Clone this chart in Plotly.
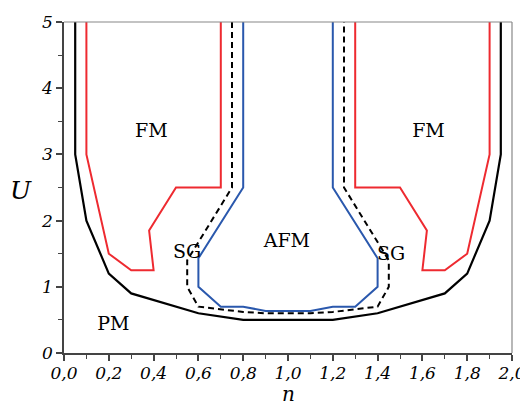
import plotly.graph_objects as go

# PM boundary (black solid)
pm_n = [0.05, 0.05, 0.1, 0.2, 0.3, 0.6, 0.8, 1.2, 1.4, 1.7, 1.8, 1.9, 1.95, 1.95]
pm_U = [5, 3, 2, 1.2, 0.9, 0.6, 0.5, 0.5, 0.6, 0.9, 1.2, 2, 3, 5]

# FM boundaries (red)
fm_left_n = [0.1, 0.1, 0.2, 0.3, 0.4, 0.38, 0.5, 0.7, 0.7]
fm_left_U = [5, 3, 1.5, 1.25, 1.25, 1.85, 2.5, 2.5, 5]
fm_right_n = [1.3, 1.3, 1.5, 1.62, 1.6, 1.7, 1.8, 1.9, 1.9]
fm_right_U = [5, 2.5, 2.5, 1.85, 1.25, 1.25, 1.5, 3, 5]

# AFM boundary (blue)
afm_n = [0.8, 0.8, 0.6, 0.6, 0.7, 0.8, 0.9, 1.1, 1.2, 1.3, 1.4, 1.4, 1.2, 1.2]
afm_U = [5, 2.5, 1.43, 1.0, 0.7, 0.7, 0.635, 0.635, 0.7, 0.7, 1.0, 1.43, 2.5, 5]

# SG boundary (black dashed)
sg_n = [0.75, 0.75, 0.55, 0.55, 0.6, 0.7, 0.8, 0.9, 1.1, 1.2, 1.3, 1.4, 1.45, 1.45, 1.25, 1.25]
sg_U = [5, 2.5, 1.4, 1.0, 0.7, 0.66, 0.62, 0.6, 0.6, 0.62, 0.66, 0.7, 1.0, 1.4, 2.5, 5]

# Phase labels
label_text = ["FM", "FM", "AFM", "SG", "SG", "PM"]
label_n = [0.39, 1.627, 0.995, 0.55, 1.46, 0.22]
label_U = [3.34, 3.34, 1.68, 1.5, 1.48, 0.42]

x_tick_vals = [0, 0.2, 0.4, 0.6, 0.8, 1.0, 1.2, 1.4, 1.6, 1.8, 2.0]
x_tick_text = ["0,0", "0,2", "0,4", "0,6", "0,8", "1,0", "1,2", "1,4", "1,6", "1,8", "2,0"]
y_tick_vals = [0, 1, 2, 3, 4, 5]
y_tick_text = ["0", "1", "2", "3", "4", "5"]

RED = "#ee2a30"
BLUE = "#2a58ad"
SERIF = "DejaVu Serif"

fig = go.Figure()
fig.add_trace(go.Scatter(x=pm_n, y=pm_U, mode="lines", line=dict(color="black", width=2.2)))
fig.add_trace(go.Scatter(x=fm_left_n, y=fm_left_U, mode="lines", line=dict(color=RED, width=2)))
fig.add_trace(go.Scatter(x=fm_right_n, y=fm_right_U, mode="lines", line=dict(color=RED, width=2)))
fig.add_trace(go.Scatter(x=afm_n, y=afm_U, mode="lines", line=dict(color=BLUE, width=2)))
fig.add_trace(go.Scatter(x=sg_n, y=sg_U, mode="lines", line=dict(color="black", width=2, dash="6px,4px")))
fig.add_trace(go.Scatter(x=label_n, y=label_U, mode="text", text=label_text,
                         textfont=dict(family=SERIF, size=19, color="black")))

axis_common = dict(showgrid=False, zeroline=False, showline=True, linecolor="#444", linewidth=1.5,
                   ticks="outside", ticklen=6, tickwidth=1.5, tickcolor="#444", automargin=False,
                   tickfont=dict(family=SERIF, size=17, color="black", style="italic"))

fig.update_xaxes(range=[0, 2], tickvals=x_tick_vals, ticktext=x_tick_text, ticklabelstandoff=-2,
                 minor=dict(dtick=0.1, ticks="outside", ticklen=4, tickwidth=1.2, tickcolor="#444"),
                 **axis_common)
fig.update_yaxes(range=[0, 5], tickvals=y_tick_vals, ticktext=y_tick_text,
                 minor=dict(dtick=0.5, ticks="outside", ticklen=4, tickwidth=1.2, tickcolor="#444"),
                 **axis_common)

# axis titles
fig.add_annotation(text="U", xref="paper", yref="paper", x=-0.095, y=0.49, showarrow=False,
                   xanchor="center", yanchor="middle",
                   font=dict(family=SERIF, size=25, color="black", style="italic"))
fig.add_annotation(text="n", xref="paper", yref="paper", x=0.5, y=-0.123, showarrow=False,
                   xanchor="center", yanchor="middle",
                   font=dict(family=SERIF, size=20, color="black", style="italic"))

# top and right frame lines
fig.add_shape(type="line", xref="paper", yref="paper", x0=0, x1=1, y0=1, y1=1, line=dict(color="#888", width=1.2))
fig.add_shape(type="line", xref="paper", yref="paper", x0=1, x1=1, y0=0, y1=1, line=dict(color="#888", width=1.2))

fig.update_layout(width=520, height=397, margin=dict(l=56, r=16, t=14, b=52),
                  plot_bgcolor="white", paper_bgcolor="white", showlegend=False)
fig.write_html("out.html")
